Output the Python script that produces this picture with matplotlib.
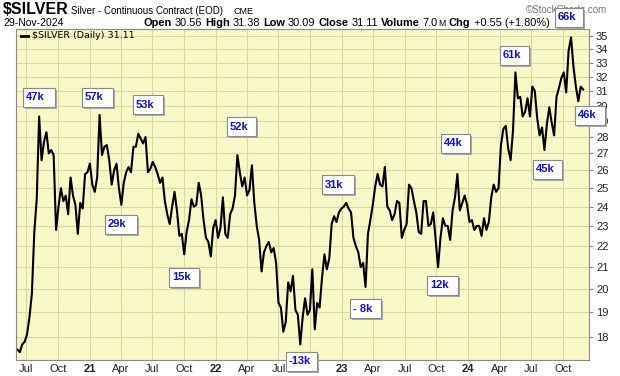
import matplotlib
matplotlib.use('Agg')
import matplotlib.pyplot as plt
from matplotlib.patches import Rectangle
from matplotlib.ticker import NullLocator
import pandas as pd

plt.rcParams['font.family'] = ['Liberation Sans', 'DejaVu Sans']

# weekly closes (Fridays) of $SILVER
silver_2020 = [17.5, 17.4, 17.7, 17.8,          # Jun (from 5th)
               18.1, 18.8, 19.8, 22.7, 24.4,    # Jul
               29.3, 26.6, 27.7, 28.3,          # Aug
               27.0, 27.2, 26.9, 22.8,          # Sep
               24.0, 25.0, 24.3, 24.6, 23.6,    # Oct
               25.6, 24.6, 24.1, 22.6,          # Nov
               24.2, 23.9, 25.8, 25.9]          # Dec
silver_2021 = [26.4, 25.2, 24.8, 25.6, 29.4,    # Jan
               26.9, 27.4, 27.5, 26.6,          # Feb
               25.2, 26.0, 26.4, 25.0,          # Mar
               24.1, 25.3, 25.9, 26.2, 25.9,    # Apr
               27.4, 27.4, 28.2, 27.9,          # May
               27.6, 28.0, 25.9, 26.1,          # Jun
               26.5, 26.2, 25.8, 25.3, 25.6,    # Jul
               24.3, 23.6, 23.1, 24.0,          # Aug
               24.8, 23.8, 22.5, 22.6,          # Sep
               21.6, 22.7, 23.3, 24.4, 24.0,    # Oct
               24.1, 25.3, 24.6, 23.3,          # Nov
               22.4, 22.2, 21.5, 22.9, 23.3]    # Dec
silver_2022 = [22.4, 22.9, 24.5, 22.6,          # Jan
               22.4, 23.6, 23.9, 24.6,          # Feb
               26.9, 25.9, 25.1, 25.6,          # Mar
               24.6, 24.9, 26.3, 24.2, 23.0,    # Apr
               22.3, 20.8, 21.7, 22.0,          # May
               22.2, 21.7, 21.9, 21.2,          # Jun
               19.4, 19.2, 18.2, 18.6, 20.3,    # Jul
               19.9, 20.6, 19.1, 18.9,          # Aug
               17.7, 18.8, 19.6, 18.9, 19.1,    # Sep
               20.9, 18.3, 19.4, 19.2,          # Oct
               20.5, 21.6, 20.9, 21.4,          # Nov
               23.1, 23.5, 23.2, 23.7, 23.9]    # Dec
silver_2023 = [24.0, 24.2, 23.9, 23.7,          # Jan
               22.4, 22.0, 21.7, 21.0,          # Feb
               21.2, 20.1, 22.6, 23.3, 24.1,    # Mar
               25.1, 25.8, 25.2, 25.1,          # Apr
               26.2, 24.0, 23.8, 23.3,          # May
               23.6, 24.3, 24.2, 22.4, 22.8,    # Jun
               23.1, 25.2, 25.0, 24.3,          # Jul
               23.7, 22.7, 22.6, 24.3,          # Aug
               24.3, 23.0, 23.1, 23.7, 22.3,    # Sep
               21.0, 22.4, 23.4, 23.0,          # Oct
               23.0, 22.3, 23.8, 24.5,          # Nov
               25.8, 23.8, 24.2, 24.6, 24.1]    # Dec
silver_2024 = [23.2, 23.3, 22.8, 23.0,          # Jan
               23.0, 22.5, 23.4, 22.8,          # Feb
               23.2, 24.5, 25.2, 24.8, 25.0,    # Mar
               27.5, 28.5, 28.7, 27.3,          # Apr
               26.6, 28.4, 32.3, 30.5, 30.6,    # May
               29.3, 29.6, 30.5, 29.3,          # Jun
               31.3, 31.0, 29.2, 28.1,          # Jul
               28.6, 27.2, 28.8, 29.9, 28.9,    # Aug
               28.1, 30.6, 31.2, 31.9,          # Sep
               32.3, 30.9, 33.9, 34.9,          # Oct
               32.7, 31.3, 30.3, 31.3, 31.1]    # Nov
first_fridays = ['2020-06-05', '2021-01-01', '2022-01-07', '2023-01-06', '2024-01-05']

y_ticks = list(range(18, 36))

# header quote line: (text, bold)
quote_parts = [('Open', True), ('30.56', False), ('High', True), ('31.38', False),
               ('Low', True), ('30.09', False), ('Close', True), ('31.11', False),
               ('Volume', True), ('7.0', False), ('M', False), ('Chg', True),
               ('+0.55 (+1.80%)', False)]

# COT net position labels
cot_labels = ['47k', '57k', '53k', '29k', '52k', '15k', '-13k', '31k',
              '- 8k', '12k', '44k', '61k', '45k', '66k', '46k']
# box left/top/width in pixels
cot_boxes = [(23, 88, 32), (82, 88, 31), (133, 95, 30), (105, 215, 32),
             (227, 117, 29), (169, 268, 30), (286, 352, 31), (322, 175, 32),
             (350, 299, 31), (427, 276, 31), (441, 134, 29), (500, 46, 29),
             (533, 160, 29), (555, 8, 28), (575, 106, 30)]

dates, prices = [], []
for start, vals in zip(first_fridays, [silver_2020, silver_2021, silver_2022, silver_2023, silver_2024]):
    dates += list(pd.date_range(start, periods=len(vals), freq='W-FRI'))
    prices += vals

W, H = 620, 376
fig = plt.figure(figsize=(6.2, 3.76), dpi=100)


def fx(x):
    return x / W


def fy(y):
    return 1 - y / H


ax = fig.add_axes([fx(16), fy(360), 573 / W, 331 / H])
ax.set_facecolor('#f9f8c9')
ax.plot(dates, prices, color='black', lw=1.5, solid_joinstyle='round')

ax.set_yscale('log')
ax.set_ylim(17.1, 35.55)
ax.set_xlim(pd.Timestamp('2020-06-01'), pd.Timestamp('2024-12-16'))
ax.yaxis.tick_right()
ax.set_yticks(y_ticks)
ax.set_yticklabels([str(v) for v in y_ticks])
ax.yaxis.set_minor_locator(NullLocator())

quarters = pd.date_range('2020-07-01', '2024-10-01', freq='QS')
ax.set_xticks(quarters)
ax.set_xticklabels([q.strftime('%y') if q.month == 1 else q.strftime('%b') for q in quarters])
for q, lab in zip(quarters, ax.get_xticklabels()):
    if q.month == 1:
        lab.set_fontweight('bold')

ax.grid(True, color='#dbd6a2', lw=0.8)
ax.set_axisbelow(True)
for s in ax.spines.values():
    s.set_color('#8a8a8a')
ax.tick_params(axis='x', length=0, pad=3, labelsize=8, labelcolor='#222222')
ax.tick_params(axis='y', length=3, width=0.8, color='#8a8a8a', pad=2, labelsize=8, labelcolor='#222222')

# legend line inside the plot
fig.add_artist(plt.Line2D([fx(21), fx(28)], [fy(35.5), fy(35.5)], color='black', lw=2))
fig.text(fx(32), fy(36), '$SILVER (Daily) 31.11', family='DejaVu Sans', fontsize=6.8, va='center')

# header
fig.text(fx(3), fy(14), '$SILVER', fontsize=11.5, fontweight='bold', va='baseline')
fig.text(fx(71), fy(14), 'Silver - Continuous Contract (EOD)', fontsize=7.0, va='baseline')
fig.text(fx(233), fy(14), 'CME', fontsize=6.5, va='baseline')
fig.text(fx(526), fy(13), '\u00a9StockCharts.com', fontsize=7, color='#777777', va='baseline')
fig.text(fx(3), fy(26), '29-Nov-2024', fontsize=7.5, va='baseline')

renderer = fig.canvas.get_renderer()
x = 143
for txt, bold in quote_parts:
    small = txt == 'M'
    t = fig.text(fx(x), fy(26), txt, fontsize=6.2 if small else 7.9,
                 fontweight='bold' if bold else 'normal', va='baseline')
    w = t.get_window_extent(renderer).width
    x += w + (0.5 if txt == '7.0' else 3)

# COT boxes
bh = 19
for lab, (x, y, w) in zip(cot_labels, cot_boxes):
    fig.add_artist(Rectangle((fx(x + 2), fy(y + bh + 2)), w / W, bh / H, facecolor='#a8a8a8',
                             edgecolor='none', transform=fig.transFigure, zorder=4))
    fig.add_artist(Rectangle((fx(x), fy(y + bh)), w / W, bh / H, facecolor='white',
                             edgecolor='#8a8a8a', lw=0.8, transform=fig.transFigure, zorder=5))
    fig.text(fx(x + 3), fy(y + bh / 2), lab, fontsize=8, fontweight='bold', color='#1010c0',
             va='center', zorder=6)

fig.savefig('out.png', dpi=100)
